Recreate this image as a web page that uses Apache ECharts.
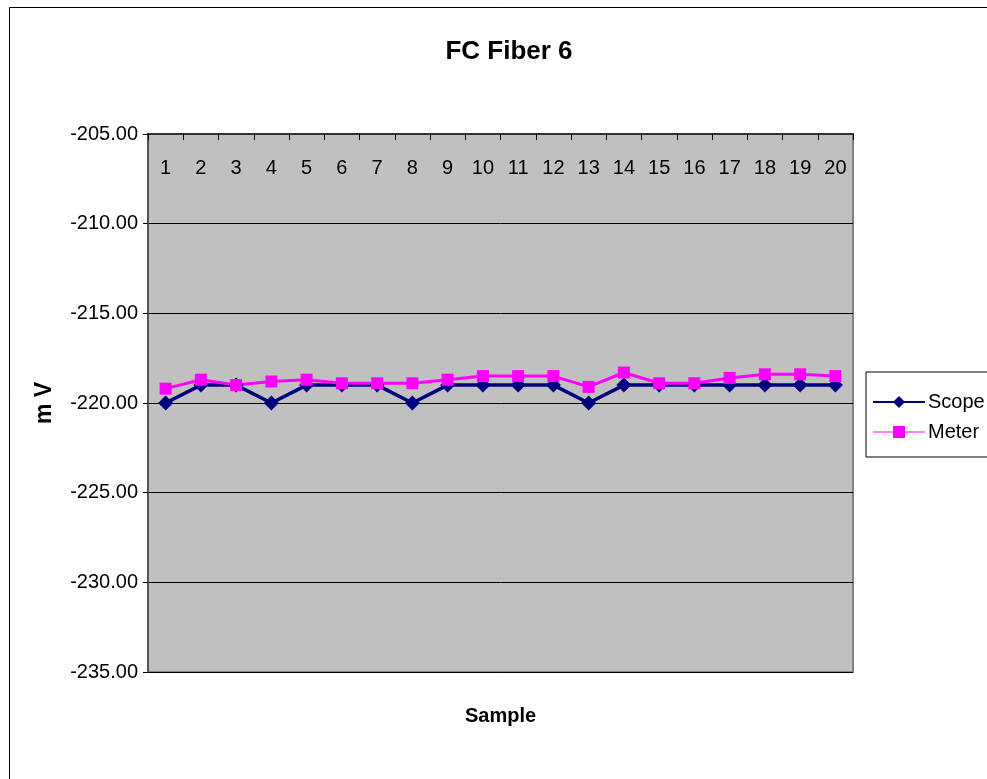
<!DOCTYPE html>
<html>
<head>
<meta charset="utf-8">
<script src="https://cdn.jsdelivr.net/npm/echarts@6/dist/echarts.min.js"></script>
<style>
  html, body { margin: 0; padding: 0; background: #fff; }
  #chart { width: 987px; height: 779px; }
</style>
</head>
<body>
<div id="chart"></div>
<script>
var samples = ['1', '2', '3', '4', '5', '6', '7', '8', '9', '10', '11', '12', '13', '14', '15', '16', '17', '18', '19', '20']
var scope = [-220, -219, -219, -220, -219, -219, -219, -220, -219, -219, -219, -219, -220, -219, -219, -219, -219, -219, -219, -219]
var meter = [-219.2, -218.7, -219.0, -218.8, -218.7, -218.9, -218.9, -218.9, -218.7, -218.5, -218.5, -218.5, -219.1, -218.3, -218.9, -218.9, -218.6, -218.4, -218.4, -218.5]

var font = 'Liberation Sans, Arial, sans-serif'
var chart = echarts.init(document.getElementById('chart'))

var option = {
  backgroundColor: '#fff',
  animation: false,
  textStyle: { fontFamily: font },
  graphic: [{
    type: 'rect',
    shape: { x: 9.5, y: 7.5, width: 1000, height: 800 },
    style: { fill: 'none', stroke: '#000', lineWidth: 1 },
    silent: true
  }],
  title: {
    text: 'FC Fiber 6',
    left: 504,
    top: 34,
    textAlign: 'center',
    textStyle: { fontFamily: font, fontSize: 26, fontWeight: 'bold', color: '#000' }
  },
  legend: {
    orient: 'vertical',
    left: 866,
    top: 372,
    padding: [20, 12, 15, 6],
    itemGap: 10,
    itemWidth: 52,
    itemHeight: 15,
    borderColor: '#000',
    borderWidth: 1,
    textStyle: { fontFamily: font, fontSize: 20, lineHeight: 20, color: '#000', padding: [0, 0, 0, -2] },
    data: [
      { name: 'Scope', lineStyle: { width: 2 } },
      { name: 'Meter', lineStyle: { width: 1 } }
    ]
  },
  grid: {
    left: 148,
    top: 134,
    width: 705,
    height: 538,
    show: true,
    backgroundColor: '#c0c0c0',
    borderColor: '#808080',
    borderWidth: 2
  },
  xAxis: {
    type: 'category',
    data: samples,
    position: 'top',
    boundaryGap: true,
    name: 'Sample',
    nameLocation: 'middle',
    nameGap: -592,
    nameTextStyle: { fontFamily: font, fontSize: 20, fontWeight: 'bold', color: '#000' },
    axisLine: { show: true, lineStyle: { color: '#333', width: 2 } },
    axisTick: { show: true, inside: true, length: 6, lineStyle: { color: '#000' } },
    axisLabel: { inside: true, margin: 24, fontSize: 20, color: '#000', fontFamily: font, interval: 0 },
    splitLine: { show: false }
  },
  yAxis: {
    type: 'value',
    min: -235,
    max: -205,
    interval: 5,
    name: 'm V',
    nameLocation: 'middle',
    nameGap: 92,
    nameRotate: 90,
    nameTextStyle: { fontFamily: font, fontSize: 23, fontWeight: 'bold', color: '#000' },
    axisLine: { show: true, lineStyle: { color: '#555', width: 2 } },
    axisTick: { show: true, length: 5, lineStyle: { color: '#000' } },
    axisLabel: {
      fontSize: 20,
      color: '#000',
      fontFamily: font,
      margin: 10,
      formatter: function (v) { return v.toFixed(2) }
    },
    splitLine: { show: true, lineStyle: { color: '#000', width: 1 } }
  },
  series: [
    {
      name: 'Scope',
      type: 'line',
      data: scope,
      symbol: 'diamond',
      symbolSize: 15,
      color: '#000080',
      lineStyle: { color: '#000080', width: 3.5 },
      itemStyle: { color: '#000080' }
    },
    {
      name: 'Meter',
      type: 'line',
      data: meter,
      symbol: 'rect',
      symbolSize: 12,
      color: '#ff00ff',
      lineStyle: { color: '#ff00ff', width: 3 },
      itemStyle: { color: '#ff00ff' }
    }
  ]
}

chart.setOption(option)
</script>
</body>
</html>
